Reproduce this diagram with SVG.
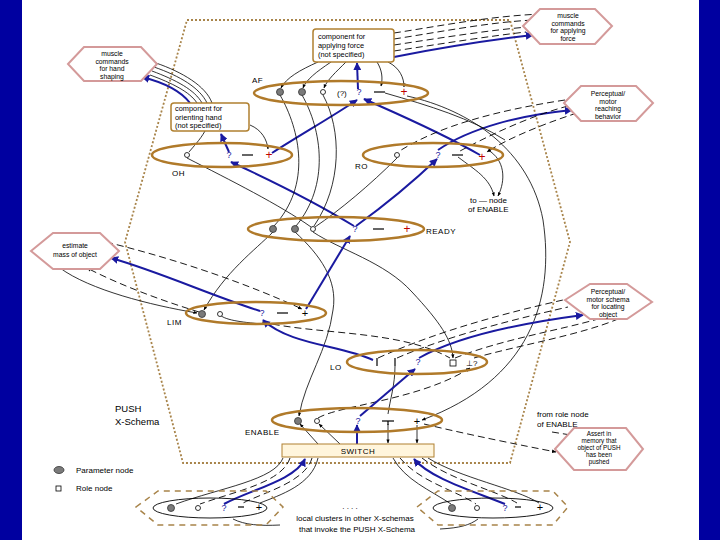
<svg xmlns="http://www.w3.org/2000/svg" width="720" height="540" viewBox="0 0 720 540">
<style>
.t{font-family:"Liberation Sans",Arial,sans-serif;font-size:8px;fill:#000}
.h{font-family:"Liberation Sans",Arial,sans-serif;font-size:6.8px;fill:#000;text-anchor:middle}
.bx{font-family:"Liberation Sans",Arial,sans-serif;font-size:7.4px;fill:#000}
.tc{text-anchor:middle}
.lb{font-family:"Liberation Sans",Arial,sans-serif;font-size:8px;fill:#000;letter-spacing:0.5px}
.ell{fill:none;stroke:#b07a2a;stroke-width:2.5}
.hex{fill:#fff;stroke:#d49a9a;stroke-width:2}
.box{fill:#fff;stroke:#b08030;stroke-width:1.5}
.bnd{fill:none;stroke:#a8844a;stroke-width:1.8;stroke-dasharray:2,2}
.bnd2{fill:none;stroke:#a8844a;stroke-width:1.5;stroke-dasharray:6,5}
.k{fill:none;stroke:#000;stroke-width:0.8}
.kd{fill:none;stroke:#000;stroke-width:0.9;stroke-dasharray:7,4}
.b{fill:none;stroke:#1a1aa0;stroke-width:2}
.gray{fill:#7a7a7a;stroke:#333;stroke-width:0.8}
.open{fill:#fff;stroke:#000;stroke-width:0.8}
.q{font-family:"Liberation Sans",Arial,sans-serif;font-size:9px;fill:#1a1aa0;text-anchor:middle}
.plus{font-family:"Liberation Sans",Arial,sans-serif;font-size:12px;fill:#c00000;text-anchor:middle}
.plusk{font-family:"Liberation Sans",Arial,sans-serif;font-size:11px;fill:#000;text-anchor:middle}
.bar{stroke:#000;stroke-width:1.2}
</style>
<defs>
<marker id="ak" viewBox="0 0 10 10" refX="9" refY="5" markerWidth="5" markerHeight="5" orient="auto"><path d="M0,1 L10,5 L0,9 z" fill="#000"/></marker>
<marker id="ab" viewBox="0 0 10 10" refX="9" refY="5" markerWidth="4" markerHeight="4" orient="auto"><path d="M0,0 L10,5 L0,10 z" fill="#1a1aa0"/></marker>
</defs>
<rect x="0" y="0" width="720" height="540" fill="#fff"/>
<rect x="0" y="0" width="22" height="540" fill="#0000a0"/>
<rect x="699" y="0" width="21" height="540" fill="#0000a0"/>

<polygon class="bnd" points="187,20 510,20 570,242 510,463 183,463 125,242"/>

<g id="connectors">
<path class="k" d="M318,62 C300,70 286,78 281,88" marker-end="url(#ak)"/>
<path class="k" d="M331,62 C316,72 306,80 303,88" marker-end="url(#ak)"/>
<path class="k" d="M346,62 C336,72 327,80 324,88" marker-end="url(#ak)"/>
<path class="k" d="M377,62 C382,70 383,78 381,86" marker-end="url(#ak)"/>
<path class="k" d="M388,62 C400,68 404,78 404,87" marker-end="url(#ak)"/>
<path class="kd" d="M394,33 C440,26 490,16 542,14"/>
<path class="kd" d="M394,39 C440,32 490,22 534,20"/>
<path class="kd" d="M394,45 C440,38 490,30 528,27"/>
<path class="kd" d="M394,51 C440,44 490,36 526,32"/>
<path class="b" d="M394,57 C440,48 490,40 533,35" marker-end="url(#ab)"/>
<path class="k" d="M212,103 C206,86 182,72 156,63"/>
<path class="k" d="M207,103 C200,88 180,76 154,67"/>
<path class="k" d="M202,103 C195,90 176,80 152,71"/>
<path class="k" d="M197,103 C190,92 172,83 150,75"/>
<path class="b" d="M190,103 C180,90 162,82 142,77" marker-end="url(#ab)"/>
<path class="k" d="M205,131 C200,140 193,147 189,152"/>
<path class="k" d="M250,125 C262,130 267,140 268,149" marker-end="url(#ak)"/>
<path class="b" d="M229,152 L221,134" marker-end="url(#ab)"/>
<path class="b" d="M272,153 C300,135 330,118 357,100" marker-end="url(#ab)"/>
<path class="b" d="M358,89 L357,63" marker-end="url(#ab)"/>
<path class="b" d="M480,155 C440,132 400,115 364,99" marker-end="url(#ab)"/>
<path class="b" d="M438,150 C470,128 520,115 572,110" marker-end="url(#ab)"/>
<path class="b" d="M354,226 C320,205 270,180 231,162" marker-end="url(#ab)"/>
<path class="b" d="M356,226 C385,205 415,180 437,159" marker-end="url(#ab)"/>
<path class="k" d="M385,93 C430,106 470,118 505,140"/>
<path class="k" d="M407,96 C470,110 530,150 543,220 C555,300 530,380 422,420" marker-end="url(#ak)"/>
<path class="kd" d="M565,100 C500,110 440,125 398,152"/>
<path class="kd" d="M568,106 C530,116 490,135 460,151"/>
<path class="kd" d="M577,113 C540,125 505,140 487,152" marker-end="url(#ak)"/>
<path class="k" d="M458,157 C475,170 490,178 494,196" marker-end="url(#ak)"/>
<path class="k" d="M488,150 C505,160 506,180 498,196" marker-end="url(#ak)"/>
<path class="k" d="M280,95 C300,130 312,185 274,226"/>
<path class="k" d="M302,95 C322,130 330,185 296,226"/>
<path class="k" d="M323,95 C342,130 342,185 314,226"/>
<path class="k" d="M187,158 C230,180 280,205 311,227"/>
<path class="k" d="M397,158 C370,185 340,210 315,227"/>
<path class="k" d="M273,232 C255,250 225,272 204,310" marker-end="url(#ak)"/>
<path class="k" d="M295,232 C320,255 338,280 333,310 C328,350 305,380 299,416" marker-end="url(#ak)"/>
<path class="k" d="M313,232 C340,250 385,262 412,292 C440,322 452,340 453,358" marker-end="url(#ak)"/>
<path class="b" d="M306,309 L350,236" marker-end="url(#ab)"/>
<path class="b" d="M260,311 C210,295 160,272 111,258" marker-end="url(#ab)"/>
<path class="kd" d="M106,242 C180,260 250,285 302,309" marker-end="url(#ak)"/>
<path class="kd" d="M199,312 C160,300 120,285 87,268" marker-end="url(#ak)"/>
<path class="k" d="M60,268 C90,290 150,305 197,313" marker-end="url(#ak)"/>
<path class="k" d="M219,314 C224,320 240,322 262,324"/>
<path class="kd" d="M262,322 C320,335 400,330 450,358"/>
<path class="b" d="M373,360 C340,345 290,345 263,320" marker-end="url(#ab)"/>
<path class="kd" d="M378,358 C440,330 510,312 563,300"/>
<path class="kd" d="M397,358 C450,335 520,318 568,307"/>
<path class="b" d="M419,358 C460,335 530,322 583,315" marker-end="url(#ab)"/>
<path class="kd" d="M455,358 C500,340 560,330 598,319"/>
<path class="kd" d="M474,358 C520,345 580,335 618,319"/>
<path class="k" d="M395,366 C395,385 390,400 388,414"/>
<path class="kd" d="M318,418 C340,405 420,400 470,368" marker-end="url(#ak)"/>
<path class="b" d="M360,416 L415,369" marker-end="url(#ab)"/>
<path class="b" d="M357,444 L357,425" marker-end="url(#ab)"/>
<path class="k" d="M318,444 L300,424" marker-end="url(#ak)"/>
<path class="k" d="M340,444 L319,424" marker-end="url(#ak)"/>
<path class="k" d="M388,424 L388,443" marker-end="url(#ak)"/>
<path class="k" d="M417,425 L417,443" marker-end="url(#ak)"/>
<path class="kd" d="M424,424 C470,435 520,445 556,452" marker-end="url(#ak)"/>
<path class="kd" d="M552,432 L577,436" marker-end="url(#ak)"/>
<path class="k" d="M283,458 C275,480 220,488 176,504"/>
<path class="kd" d="M290,458 C282,482 240,490 200,504"/>
<path class="b" d="M224,504 C250,490 295,480 305,459" marker-end="url(#ab)"/>
<path class="kd" d="M312,458 C305,482 265,492 243,503"/>
<path class="k" d="M318,458 C312,485 280,495 260,503"/>
<path class="k" d="M393,458 C405,480 430,490 451,504"/>
<path class="kd" d="M400,458 C420,482 455,490 476,504"/>
<path class="b" d="M505,504 C470,490 430,478 414,459" marker-end="url(#ab)"/>
<path class="kd" d="M422,458 C450,480 495,490 517,503"/>
<path class="k" d="M428,458 C460,478 515,488 539,503"/>
<path class="k" d="M233,519 C245,525 260,526 280,525"/>
<path class="k" d="M478,519 C470,525 460,528 440,529"/>
</g>

<g id="AF">
<ellipse class="ell" cx="341" cy="93" rx="87" ry="12"/>
<circle class="gray" cx="280" cy="92" r="3.5"/>
<circle class="gray" cx="302" cy="92" r="3.5"/>
<circle class="open" cx="323" cy="92" r="2.5"/>
<text class="t" x="337" y="96">(?)</text>
<text class="q" x="359" y="95">?</text>
<line class="bar" x1="374" y1="92" x2="385" y2="92"/>
<text class="plus" x="404" y="96">+</text>
<text class="lb" x="252" y="83">AF</text>
</g>
<g id="OH">
<ellipse class="ell" cx="222" cy="155" rx="70" ry="12"/>
<circle class="open" cx="187" cy="155" r="2.5"/>
<text class="q" x="229" y="158">?</text>
<line class="bar" x1="242" y1="155" x2="253" y2="155"/>
<text class="plus" x="269" y="159">+</text>
<text class="lb" x="172" y="176">OH</text>
</g>
<g id="RO">
<ellipse class="ell" cx="433" cy="155" rx="70" ry="12"/>
<circle class="open" cx="397" cy="155" r="2.5"/>
<text class="q" x="438" y="158">?</text>
<line class="bar" x1="452" y1="155" x2="463" y2="155"/>
<text class="plus" x="482" y="161">+</text>
<text class="lb" x="355" y="169">RO</text>
</g>
<g id="READY">
<ellipse class="ell" cx="336" cy="229" rx="88" ry="12"/>
<circle class="gray" cx="273" cy="229" r="3.5"/>
<circle class="gray" cx="295" cy="229" r="3.5"/>
<circle class="open" cx="313" cy="229" r="2.5"/>
<text class="q" x="355" y="232">?</text>
<line class="bar" x1="373" y1="229" x2="384" y2="229"/>
<text class="plus" x="407" y="233">+</text>
<text class="lb" x="426" y="234">READY</text>
</g>
<g id="LIM">
<ellipse class="ell" cx="256" cy="313" rx="70" ry="11"/>
<circle class="gray" cx="202" cy="314" r="3.5"/>
<circle class="open" cx="220" cy="314" r="2.5"/>
<text class="q" x="262" y="316">?</text>
<line class="bar" x1="277" y1="313" x2="288" y2="313"/>
<text class="plusk" x="305" y="317">+</text>
<text class="lb" x="167" y="325">LIM</text>
</g>
<g id="LO">
<ellipse class="ell" cx="417" cy="362" rx="70" ry="12"/>
<line class="bar" x1="377" y1="358" x2="377" y2="366"/>
<line class="bar" x1="395" y1="358" x2="395" y2="366"/>
<text class="q" x="418" y="365">?</text>
<rect class="open" x="450" y="360" width="6" height="6"/>
<text class="t" x="466" y="366">⊥?</text>
<text class="lb" x="330" y="370">LO</text>
</g>
<g id="ENABLE">
<ellipse class="ell" cx="357" cy="420" rx="85" ry="12"/>
<circle class="gray" cx="298" cy="421" r="3.5"/>
<circle class="open" cx="317" cy="421" r="2.5"/>
<text class="q" x="358" y="424">?</text>
<line class="bar" x1="382" y1="421" x2="394" y2="421"/>
<line class="bar" x1="388" y1="421" x2="388" y2="425"/>
<text class="plusk" x="417" y="425">+</text>
<text class="lb" x="245" y="435">ENABLE</text>
</g>
<g id="SWITCH">
<rect x="282" y="444" width="152" height="13" fill="#fff5dc" stroke="#b08030" stroke-width="1"/>
<text class="lb tc" x="358" y="454">SWITCH</text>
</g>

<g id="boxA">
<rect class="box" x="313" y="29" width="81" height="33" rx="3"/>
<text class="bx" x="318" y="39">component for</text>
<text class="bx" x="318" y="48">applying force</text>
<text class="bx" x="318" y="57">(not specified)</text>
</g>
<g id="boxO">
<rect class="box" x="171" y="103" width="78" height="28" rx="3"/>
<text class="bx" x="175" y="111">component for</text>
<text class="bx" x="175" y="119.5">orienting hand</text>
<text class="bx" x="175" y="128">(not specified)</text>
</g>

<g id="hexHand">
<polygon class="hex" points="68,64 84,47 141,47 157,64 141,81 84,81"/>
<text class="h" x="112" y="56">muscle</text>
<text class="h" x="112" y="63.5">commands</text>
<text class="h" x="112" y="71">for hand</text>
<text class="h" x="112" y="78.5">shaping</text>
</g>
<g id="hexForce">
<polygon class="hex" points="523,26 540,9 595,9 612,26 595,44 540,44"/>
<text class="h" x="568" y="18">muscle</text>
<text class="h" x="568" y="25.5">commands</text>
<text class="h" x="568" y="33">for applying</text>
<text class="h" x="568" y="40.5">force</text>
</g>
<g id="hexReach">
<polygon class="hex" points="564,103 581,86 636,86 653,103 636,121 581,121"/>
<text class="h" x="608" y="96">Perceptual/</text>
<text class="h" x="608" y="103.5">motor</text>
<text class="h" x="608" y="111">reaching</text>
<text class="h" x="608" y="118.5">behavior</text>
</g>
<g id="hexMass">
<polygon class="hex" points="31,251 53,233 100,233 119,251 100,269 53,269"/>
<text class="h" x="75" y="248">estimate</text>
<text class="h" x="75" y="257">mass of object</text>
</g>
<g id="hexLocate">
<polygon class="hex" points="565,300 590,284 627,284 652,302 627,319 590,319"/>
<text class="h" x="608" y="294">Perceptual/</text>
<text class="h" x="608" y="301.5">motor schema</text>
<text class="h" x="608" y="309">for locating</text>
<text class="h" x="608" y="316.5">object</text>
</g>
<g id="hexAssert">
<polygon class="hex" points="555,449 574,428 626,428 643,449 626,470 574,470"/>
<text class="h" x="599" y="436" style="font-size:6.3px">Assert in</text>
<text class="h" x="599" y="443" style="font-size:6.3px">memory that</text>
<text class="h" x="599" y="450" style="font-size:6.3px">object of PUSH</text>
<text class="h" x="599" y="457" style="font-size:6.3px">has been</text>
<text class="h" x="599" y="464" style="font-size:6.3px">pushed</text>
</g>

<g id="clusterL">
<polygon class="bnd2" points="136,507 158,491 266,491 283,507 266,525 158,525"/>
<ellipse cx="210" cy="508" rx="57" ry="10" fill="none" stroke="#000" stroke-width="0.9"/>
<circle class="gray" cx="171" cy="508" r="3.5"/>
<circle class="open" cx="198" cy="508" r="2.5"/>
<text class="q" x="224" y="511">?</text>
<line class="bar" x1="238" y1="507" x2="244" y2="507"/>
<text class="plusk" x="259" y="511">+</text>
</g>
<g id="clusterR">
<polygon class="bnd2" points="417,507 438,491 553,491 568,507 553,525 438,525"/>
<ellipse cx="493" cy="508" rx="60" ry="10" fill="none" stroke="#000" stroke-width="0.9"/>
<circle class="gray" cx="452" cy="508" r="3.5"/>
<circle class="open" cx="477" cy="508" r="2.5"/>
<text class="q" x="505" y="511">?</text>
<line class="bar" x1="515" y1="507" x2="521" y2="507"/>
<text class="plusk" x="540" y="511">+</text>
</g>

<g id="labels">
<text class="t" x="470" y="203">to ― node</text>
<text class="t" x="468" y="212">of ENABLE</text>
<text class="t" x="537" y="417">from role node</text>
<text class="t" x="537" y="427">of ENABLE</text>
<text class="t" x="115" y="412" style="font-size:9.5px">PUSH</text>
<text class="t" x="115" y="425" style="font-size:9.5px">X-Schema</text>
<text class="t tc" x="350" y="509">. . . .</text>
<text class="t tc" x="355" y="521">local clusters in other X-schemas</text>
<text class="t tc" x="357" y="532">that invoke the PUSH X-Schema</text>
</g>
<g id="legend">
<ellipse class="gray" cx="59" cy="470" rx="5" ry="3.5"/>
<text class="t" x="76" y="473">Parameter node</text>
<rect class="open" x="56" y="486" width="5" height="5"/>
<text class="t" x="76" y="491">Role node</text>
</g>
</svg>
